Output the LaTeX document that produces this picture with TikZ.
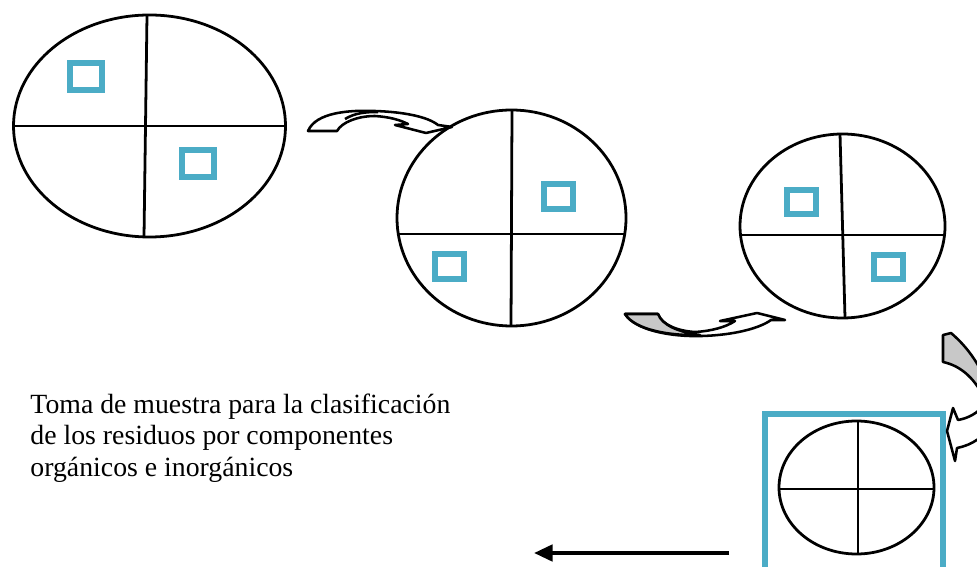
\documentclass[tikz,border=0pt]{standalone}
\usepackage{fontspec}
\setmainfont{Liberation Serif}
\usetikzlibrary{arrows.meta}
\definecolor{muestra}{RGB}{75,172,198}
\definecolor{sombra}{RGB}{200,200,200}
\tikzset{
  plato/.style={line width=1.2pt},
  cuadro/.style={draw=muestra,line width=2.4pt},
  flecha/.style={line width=1.1pt,line join=round}
}
\begin{document}
\begin{tikzpicture}[x=0.432pt,y=-0.432pt]
\useasboundingbox (0,0) rectangle (977,567);
\draw[plato] (149.5,126) ellipse [x radius=136, y radius=111]; %sample 1
\draw[plato] (147,15) -- (144,237);
\draw[plato] (13,126) -- (286,126);
\draw[cuadro] (70,63) rectangle (102,90);
\draw[cuadro] (182,150) rectangle (214,177);
\draw[plato] (511.5,218) ellipse [x radius=114.5, y radius=108]; %sample 2
\draw[plato] (512,110) -- (511,326);
\draw[plato] (397,234) -- (626,234);
\draw[cuadro] (544,184) rectangle (573,209);
\draw[cuadro] (435,254) rectangle (464,279);
\draw[plato] (842.5,226) ellipse [x radius=102.5, y radius=92]; %sample 3
\draw[plato] (840,134) -- (845,318);
\draw[plato] (740,235) -- (945,235);
\draw[cuadro] (787,190) rectangle (816,214);
\draw[cuadro] (874,255) rectangle (903,279);
\draw[cuadro,line width=2.6pt] (765,414) rectangle (943,600); %final sample
\draw[plato] (856.5,487.5) ellipse [x radius=77.5, y radius=66.5];
\draw[plato] (858,421) -- (858,554);
\draw[plato] (779,489) -- (934,489);
% curved arrow 1
\draw[flecha,fill=white] (308,131) .. controls (316,112) and (350,110) .. (375,111)
  .. controls (405,112) and (428,117) .. (438,125) -- (452,127) -- (426,133) -- (395,125)
  -- (408,124) .. controls (400,120) and (390,117) .. (375,116)
  .. controls (358,116) and (342,122) .. (337,131) -- cycle;
\draw[flecha] (345,119) .. controls (355,113) and (365,112) .. (378,112);
% curved arrow 2
\draw[flecha,fill=white] (625,314) .. controls (635,330) and (670,337) .. (702,336)
  .. controls (735,335) and (760,328) .. (771,320) -- (785,320) -- (757,313) -- (720,321)
  -- (735,321) .. controls (726,327) and (712,331) .. (695,332)
  .. controls (678,331) and (662,325) .. (658,314) -- cycle;
\draw[flecha,fill=sombra] (625,314) -- (658,314) .. controls (662,325) and (678,332) .. (700,335)
  .. controls (670,336) and (635,330) .. (625,314) -- cycle;
% curved arrow 3
\draw[flecha,fill=white] (990,385) .. controls (990,405) and (975,417) .. (958,420)
  -- (953,408) -- (947,431) -- (955,461) -- (957,448)
  .. controls (972,445) and (985,437) .. (995,420) -- cycle;
\draw[flecha,fill=sombra] (943,335) -- (951,333) .. controls (965,345) and (975,358) .. (985,378)
  -- (985,400) .. controls (976,380) and (962,366) .. (943,362) -- cycle;
\node[anchor=base west,align=left,font=\fontsize{12}{13.4}\selectfont,inner sep=0pt]
  (texto) at (30,476) {Toma de muestra para la clasificación\\de los residuos por componentes\\orgánicos e inorgánicos};
\coordinate (desde) at (729,553);
\coordinate (hasta) at (534,553);
\draw[line width=1.7pt,-{Triangle[length=8pt,width=7pt]}] (desde) -- (hasta);
\end{tikzpicture}
\end{document}
